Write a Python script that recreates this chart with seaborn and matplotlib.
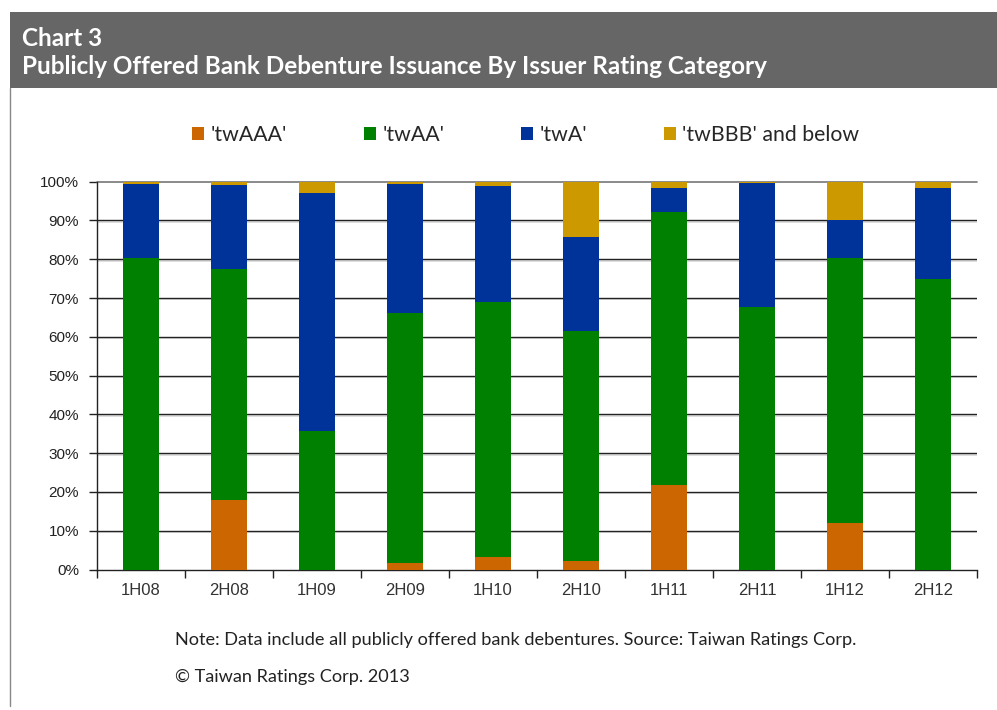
import matplotlib
matplotlib.use("Agg")
import matplotlib.pyplot as plt
import seaborn as sns
import pandas as pd
import numpy as np
from matplotlib.patches import Rectangle, Patch
from matplotlib.lines import Line2D

periods = ["1H08", "2H08", "1H09", "2H09", "1H10", "2H10", "1H11", "2H11", "1H12", "2H12"]
tw_aaa = [0.0, 18.0, 0.0, 1.8, 3.3, 2.1, 21.9, 0.0, 12.1, 0.0]
tw_aa = [80.2, 59.6, 35.8, 64.4, 65.8, 59.5, 70.4, 67.8, 68.1, 75.0]
tw_a = [19.3, 21.6, 61.4, 33.3, 29.9, 24.2, 6.2, 31.9, 10.0, 23.5]
tw_bbb = [0.5, 0.8, 2.8, 0.5, 1.0, 14.2, 1.5, 0.3, 9.8, 1.5]
series_names = ["'twAAA'", "'twAA'", "'twA'", "'twBBB' and below"]
colors = ["#CC6600", "#008000", "#003399", "#CC9900"]

sns.set_theme(style="white")
plt.rcParams['font.family'] = ['Liberation Sans', 'DejaVu Sans']

fig = plt.figure(figsize=(9.97, 7.1), dpi=100)

# header box
fig.patches.append(Rectangle((10/997, 1-88/710), 987/997, 76/710, transform=fig.transFigure,
                             facecolor="#666666", edgecolor="none", zorder=0))
fig.lines.append(Line2D([10/997, 10/997], [1-88/710, 1-706/710], transform=fig.transFigure,
                        color="#888888", lw=1.0))
fig.text(22/997, 1-38/710, "Chart 3", color="white", fontsize=17.5, fontweight="bold",
         family=["Lato", "DejaVu Sans"], va="center", ha="left")
fig.text(22/997, 1-67/710, "Publicly Offered Bank Debenture Issuance By Issuer Rating Category",
         color="white", fontsize=17.5, fontweight="bold", family=["Lato", "DejaVu Sans"],
         va="center", ha="left")

ax = fig.add_axes([97/997, 1-569.5/710, 880/997, (569.5-181.7)/710])

df = pd.DataFrame({"period": periods, "aaa": tw_aaa, "aa": tw_aa, "a": tw_a, "bbb": tw_bbb})
cols = ["aaa", "aa", "a", "bbb"]
cum = df[cols].cumsum(axis=1)
for i in range(3, -1, -1):
    d = pd.DataFrame({"period": periods, "value": cum[cols[i]].values})
    sns.barplot(data=d, x="period", y="value", color=colors[i], width=0.41,
                saturation=1, ax=ax, zorder=3, linewidth=0)

ax.set_xlim(-0.5, 9.5)
ax.set_ylim(0, 100)
ax.set_yticks(np.arange(0, 101, 10))
ax.set_yticklabels([f"{v}%" for v in range(0, 101, 10)])
ax.set_xlabel("")
ax.set_ylabel("")
for y in range(10, 100, 10):
    ax.axhline(y - 0.35, color="#d8d8d8", lw=1.2, zorder=1)
    ax.axhline(y, color="#222222", lw=1.0, zorder=1.5)
ax.axhline(100, color="#777777", lw=1.2, zorder=1.5, clip_on=False)

for s in ["top", "right"]:
    ax.spines[s].set_visible(False)
ax.spines["left"].set_color("#222222")
ax.spines["bottom"].set_color("#222222")
ax.spines["left"].set_linewidth(1.0)
ax.spines["bottom"].set_linewidth(1.0)

ax.set_xticks(np.arange(10))
ax.set_xticklabels(periods)
ax.set_xticks(np.arange(-0.5, 10, 1), minor=True)
ax.tick_params(axis="x", which="major", length=0, pad=10, labelsize=12, labelcolor="#333333")
ax.tick_params(axis="x", which="minor", length=6, width=1, color="#222222", direction="out",
               bottom=True)
ax.tick_params(axis="y", which="major", length=6, width=1, color="#222222", direction="out",
               left=True, labelsize=11, labelcolor="#222222", pad=7)

legend_x = [192, 364, 521, 664]
for name, c, lx in zip(series_names, colors, legend_x):
    lg = fig.legend([Patch(facecolor=c, edgecolor="none")], [name], loc="center left",
                    bbox_to_anchor=(lx/997, 1-135/710), frameon=False, borderpad=0,
                    borderaxespad=0, handlelength=0.56, handleheight=0.56, handletextpad=0.3,
                    prop={"family": ["Lato", "DejaVu Sans"], "size": 15.3})

fig.text(175/997, 1-640/710,
         "Note: Data include all publicly offered bank debentures. Source: Taiwan Ratings Corp.",
         fontsize=13.1, family=["Lato", "DejaVu Sans"], color="#222222", va="center")
fig.text(175/997, 1-677/710, "\u00a9 Taiwan Ratings Corp. 2013",
         fontsize=13.1, family=["Lato", "DejaVu Sans"], color="#222222", va="center")

fig.savefig("out.png", dpi=100)
